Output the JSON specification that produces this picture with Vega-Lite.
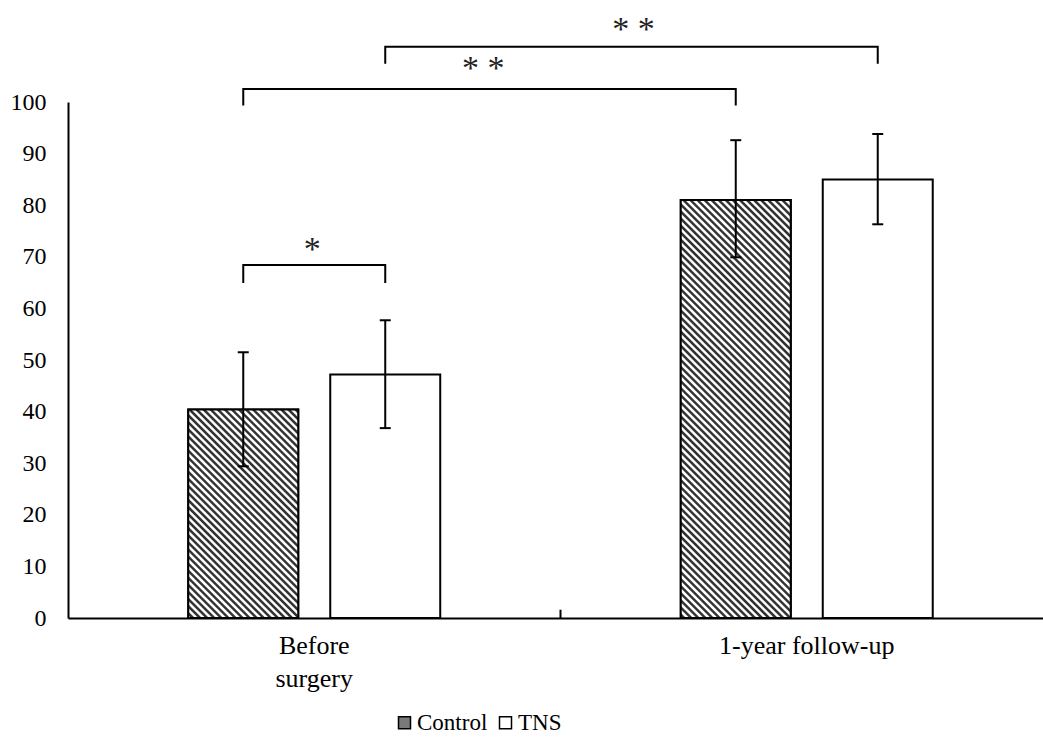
{
  "$schema": "https://vega.github.io/schema/vega-lite/v6.json",
  "width": 985,
  "height": 516,
  "autosize": {"type": "none"},
  "padding": {"left": 68, "top": 102, "right": 0, "bottom": 128},
  "background": "white",
  "config": {"view": {"stroke": null}, "font": "Liberation Serif"},
  "datasets": {
    "bars": [
      {"time": "Before surgery", "group": "Control", "mean": 40.4, "lo": 29.4, "hi": 51.5},
      {"time": "Before surgery", "group": "TNS", "mean": 47.2, "lo": 36.8, "hi": 57.7},
      {"time": "1-year follow-up", "group": "Control", "mean": 81.0, "lo": 69.9, "hi": 92.6},
      {"time": "1-year follow-up", "group": "TNS", "mean": 85.0, "lo": 76.3, "hi": 93.8}
    ],
    "brackets": [
      {"b": "a", "ord": 1, "time": "Before surgery", "group": "Control", "y": 64.9},
      {"b": "a", "ord": 2, "time": "Before surgery", "group": "Control", "y": 68.4},
      {"b": "a", "ord": 3, "time": "Before surgery", "group": "TNS", "y": 68.4},
      {"b": "a", "ord": 4, "time": "Before surgery", "group": "TNS", "y": 64.9},
      {"b": "b", "ord": 1, "time": "Before surgery", "group": "Control", "y": 99.3},
      {"b": "b", "ord": 2, "time": "Before surgery", "group": "Control", "y": 102.5},
      {"b": "b", "ord": 3, "time": "1-year follow-up", "group": "Control", "y": 102.5},
      {"b": "b", "ord": 4, "time": "1-year follow-up", "group": "Control", "y": 99.3},
      {"b": "c", "ord": 1, "time": "Before surgery", "group": "TNS", "y": 107.4},
      {"b": "c", "ord": 2, "time": "Before surgery", "group": "TNS", "y": 110.7},
      {"b": "c", "ord": 3, "time": "1-year follow-up", "group": "TNS", "y": 110.7},
      {"b": "c", "ord": 4, "time": "1-year follow-up", "group": "TNS", "y": 107.4}
    ]
  },
  "layer": [
    {
      "data": {"name": "bars"},
      "mark": {"type": "bar", "stroke": "black", "strokeWidth": 2},
      "encoding": {
        "x": {
          "field": "time", "type": "nominal",
          "sort": ["Before surgery", "1-year follow-up"],
          "scale": {"paddingInner": 0, "paddingOuter": 0},
          "axis": {
            "title": null, "labelAngle": 0, "ticks": false,
            "domainColor": "black", "domainWidth": 2,
            "labelFont": "Liberation Serif",
            "labelFontSize": 26, "labelColor": "black", "labelPadding": 14,
            "labelLineHeight": 33, "labelBaseline": "top",
            "labelExpr": "datum.label == 'Before surgery' ? ['Before', 'surgery'] : datum.label"
          }
        },
        "xOffset": {
          "field": "group", "type": "nominal", "sort": ["Control", "TNS"],
          "scale": {"paddingInner": 0.2254, "paddingOuter": 0.847}
        },
        "y": {
          "field": "mean", "type": "quantitative",
          "scale": {"domain": [0, 100]},
          "axis": {
            "title": null, "ticks": false, "grid": false,
            "values": [0, 10, 20, 30, 40, 50, 60, 70, 80, 90, 100],
            "domainColor": "black", "domainWidth": 2,
            "labelFont": "Liberation Serif",
            "labelFontSize": 24, "labelColor": "black", "labelPadding": 22
          }
        },
        "fill": {
          "field": "group", "type": "nominal",
          "scale": {"domain": ["Control", "TNS"], "range": ["#7a7a7a", "#ffffff"]},
          "legend": {
            "title": null, "orient": "none", "direction": "horizontal",
            "legendX": 325, "legendY": 609,
            "symbolType": "square", "symbolSize": 144,
            "symbolStrokeColor": "black", "symbolStrokeWidth": 1.5,
            "labelFont": "Liberation Serif",
            "labelFontSize": 23, "labelColor": "black", "labelOffset": 1,
            "columnPadding": 6
          }
        }
      }
    },
    {
      "data": {"name": "bars"},
      "transform": [{"filter": "datum.group == 'Control' && datum.time == 'Before surgery'"}],
      "mark": {"type": "bar", "stroke": "black", "strokeWidth": 2, "fill": {"gradient": "linear", "x1": -0.1997, "y1": 1.8262, "x2": 1.1997, "y2": -0.8262, "stops": [
        {"offset":0.27,"color":"#333"},{"offset":0.273,"color":"#333"},{"offset":0.275,"color":"#fff"},{"offset":0.278,"color":"#fff"},
        {"offset":0.28,"color":"#333"},{"offset":0.283,"color":"#333"},{"offset":0.285,"color":"#fff"},{"offset":0.288,"color":"#fff"},
        {"offset":0.29,"color":"#333"},{"offset":0.293,"color":"#333"},{"offset":0.295,"color":"#fff"},{"offset":0.298,"color":"#fff"},
        {"offset":0.30,"color":"#333"},{"offset":0.303,"color":"#333"},{"offset":0.305,"color":"#fff"},{"offset":0.308,"color":"#fff"},
        {"offset":0.31,"color":"#333"},{"offset":0.313,"color":"#333"},{"offset":0.315,"color":"#fff"},{"offset":0.318,"color":"#fff"},
        {"offset":0.32,"color":"#333"},{"offset":0.323,"color":"#333"},{"offset":0.325,"color":"#fff"},{"offset":0.328,"color":"#fff"},
        {"offset":0.33,"color":"#333"},{"offset":0.333,"color":"#333"},{"offset":0.335,"color":"#fff"},{"offset":0.338,"color":"#fff"},
        {"offset":0.34,"color":"#333"},{"offset":0.343,"color":"#333"},{"offset":0.345,"color":"#fff"},{"offset":0.348,"color":"#fff"},
        {"offset":0.35,"color":"#333"},{"offset":0.353,"color":"#333"},{"offset":0.355,"color":"#fff"},{"offset":0.358,"color":"#fff"},
        {"offset":0.36,"color":"#333"},{"offset":0.363,"color":"#333"},{"offset":0.365,"color":"#fff"},{"offset":0.368,"color":"#fff"},
        {"offset":0.37,"color":"#333"},{"offset":0.373,"color":"#333"},{"offset":0.375,"color":"#fff"},{"offset":0.378,"color":"#fff"},
        {"offset":0.38,"color":"#333"},{"offset":0.383,"color":"#333"},{"offset":0.385,"color":"#fff"},{"offset":0.388,"color":"#fff"},
        {"offset":0.39,"color":"#333"},{"offset":0.393,"color":"#333"},{"offset":0.395,"color":"#fff"},{"offset":0.398,"color":"#fff"},
        {"offset":0.40,"color":"#333"},{"offset":0.403,"color":"#333"},{"offset":0.405,"color":"#fff"},{"offset":0.408,"color":"#fff"},
        {"offset":0.41,"color":"#333"},{"offset":0.413,"color":"#333"},{"offset":0.415,"color":"#fff"},{"offset":0.418,"color":"#fff"},
        {"offset":0.42,"color":"#333"},{"offset":0.423,"color":"#333"},{"offset":0.425,"color":"#fff"},{"offset":0.428,"color":"#fff"},
        {"offset":0.43,"color":"#333"},{"offset":0.433,"color":"#333"},{"offset":0.435,"color":"#fff"},{"offset":0.438,"color":"#fff"},
        {"offset":0.44,"color":"#333"},{"offset":0.443,"color":"#333"},{"offset":0.445,"color":"#fff"},{"offset":0.448,"color":"#fff"},
        {"offset":0.45,"color":"#333"},{"offset":0.453,"color":"#333"},{"offset":0.455,"color":"#fff"},{"offset":0.458,"color":"#fff"},
        {"offset":0.46,"color":"#333"},{"offset":0.463,"color":"#333"},{"offset":0.465,"color":"#fff"},{"offset":0.468,"color":"#fff"},
        {"offset":0.47,"color":"#333"},{"offset":0.473,"color":"#333"},{"offset":0.475,"color":"#fff"},{"offset":0.478,"color":"#fff"},
        {"offset":0.48,"color":"#333"},{"offset":0.483,"color":"#333"},{"offset":0.485,"color":"#fff"},{"offset":0.488,"color":"#fff"},
        {"offset":0.49,"color":"#333"},{"offset":0.493,"color":"#333"},{"offset":0.495,"color":"#fff"},{"offset":0.498,"color":"#fff"},
        {"offset":0.50,"color":"#333"},{"offset":0.503,"color":"#333"},{"offset":0.505,"color":"#fff"},{"offset":0.508,"color":"#fff"},
        {"offset":0.51,"color":"#333"},{"offset":0.513,"color":"#333"},{"offset":0.515,"color":"#fff"},{"offset":0.518,"color":"#fff"},
        {"offset":0.52,"color":"#333"},{"offset":0.523,"color":"#333"},{"offset":0.525,"color":"#fff"},{"offset":0.528,"color":"#fff"},
        {"offset":0.53,"color":"#333"},{"offset":0.533,"color":"#333"},{"offset":0.535,"color":"#fff"},{"offset":0.538,"color":"#fff"},
        {"offset":0.54,"color":"#333"},{"offset":0.543,"color":"#333"},{"offset":0.545,"color":"#fff"},{"offset":0.548,"color":"#fff"},
        {"offset":0.55,"color":"#333"},{"offset":0.553,"color":"#333"},{"offset":0.555,"color":"#fff"},{"offset":0.558,"color":"#fff"},
        {"offset":0.56,"color":"#333"},{"offset":0.563,"color":"#333"},{"offset":0.565,"color":"#fff"},{"offset":0.568,"color":"#fff"},
        {"offset":0.57,"color":"#333"},{"offset":0.573,"color":"#333"},{"offset":0.575,"color":"#fff"},{"offset":0.578,"color":"#fff"},
        {"offset":0.58,"color":"#333"},{"offset":0.583,"color":"#333"},{"offset":0.585,"color":"#fff"},{"offset":0.588,"color":"#fff"},
        {"offset":0.59,"color":"#333"},{"offset":0.593,"color":"#333"},{"offset":0.595,"color":"#fff"},{"offset":0.598,"color":"#fff"},
        {"offset":0.60,"color":"#333"},{"offset":0.603,"color":"#333"},{"offset":0.605,"color":"#fff"},{"offset":0.608,"color":"#fff"},
        {"offset":0.61,"color":"#333"},{"offset":0.613,"color":"#333"},{"offset":0.615,"color":"#fff"},{"offset":0.618,"color":"#fff"},
        {"offset":0.62,"color":"#333"},{"offset":0.623,"color":"#333"},{"offset":0.625,"color":"#fff"},{"offset":0.628,"color":"#fff"},
        {"offset":0.63,"color":"#333"},{"offset":0.633,"color":"#333"},{"offset":0.635,"color":"#fff"},{"offset":0.638,"color":"#fff"},
        {"offset":0.64,"color":"#333"},{"offset":0.643,"color":"#333"},{"offset":0.645,"color":"#fff"},{"offset":0.648,"color":"#fff"},
        {"offset":0.65,"color":"#333"},{"offset":0.653,"color":"#333"},{"offset":0.655,"color":"#fff"},{"offset":0.658,"color":"#fff"},
        {"offset":0.66,"color":"#333"},{"offset":0.663,"color":"#333"},{"offset":0.665,"color":"#fff"},{"offset":0.668,"color":"#fff"},
        {"offset":0.67,"color":"#333"},{"offset":0.673,"color":"#333"},{"offset":0.675,"color":"#fff"},{"offset":0.678,"color":"#fff"},
        {"offset":0.68,"color":"#333"},{"offset":0.683,"color":"#333"},{"offset":0.685,"color":"#fff"},{"offset":0.688,"color":"#fff"},
        {"offset":0.69,"color":"#333"},{"offset":0.693,"color":"#333"},{"offset":0.695,"color":"#fff"},{"offset":0.698,"color":"#fff"},
        {"offset":0.70,"color":"#333"},{"offset":0.703,"color":"#333"},{"offset":0.705,"color":"#fff"},{"offset":0.708,"color":"#fff"},
        {"offset":0.71,"color":"#333"},{"offset":0.713,"color":"#333"},{"offset":0.715,"color":"#fff"},{"offset":0.718,"color":"#fff"},
        {"offset":0.72,"color":"#333"},{"offset":0.723,"color":"#333"},{"offset":0.725,"color":"#fff"},{"offset":0.728,"color":"#fff"},
        {"offset":0.73,"color":"#333"},{"offset":0.733,"color":"#333"},{"offset":0.735,"color":"#fff"},{"offset":0.738,"color":"#fff"}
      ]}},
      "encoding": {
        "x": {"field": "time", "type": "nominal", "sort": ["Before surgery", "1-year follow-up"]},
        "xOffset": {"field": "group", "type": "nominal", "sort": ["Control", "TNS"]},
        "y": {"field": "mean", "type": "quantitative"}
      }
    },
    {
      "data": {"name": "bars"},
      "transform": [{"filter": "datum.group == 'Control' && datum.time == '1-year follow-up'"}],
      "mark": {"type": "bar", "stroke": "black", "strokeWidth": 2, "fill": {"gradient": "linear", "x1": 0.2918, "y1": 1.2911, "x2": 0.7082, "y2": -0.2911, "stops": [
        {"offset":0.12,"color":"#333"},{"offset":0.123,"color":"#333"},{"offset":0.125,"color":"#fff"},{"offset":0.128,"color":"#fff"},
        {"offset":0.13,"color":"#333"},{"offset":0.133,"color":"#333"},{"offset":0.135,"color":"#fff"},{"offset":0.138,"color":"#fff"},
        {"offset":0.14,"color":"#333"},{"offset":0.143,"color":"#333"},{"offset":0.145,"color":"#fff"},{"offset":0.148,"color":"#fff"},
        {"offset":0.15,"color":"#333"},{"offset":0.153,"color":"#333"},{"offset":0.155,"color":"#fff"},{"offset":0.158,"color":"#fff"},
        {"offset":0.16,"color":"#333"},{"offset":0.163,"color":"#333"},{"offset":0.165,"color":"#fff"},{"offset":0.168,"color":"#fff"},
        {"offset":0.17,"color":"#333"},{"offset":0.173,"color":"#333"},{"offset":0.175,"color":"#fff"},{"offset":0.178,"color":"#fff"},
        {"offset":0.18,"color":"#333"},{"offset":0.183,"color":"#333"},{"offset":0.185,"color":"#fff"},{"offset":0.188,"color":"#fff"},
        {"offset":0.19,"color":"#333"},{"offset":0.193,"color":"#333"},{"offset":0.195,"color":"#fff"},{"offset":0.198,"color":"#fff"},
        {"offset":0.20,"color":"#333"},{"offset":0.203,"color":"#333"},{"offset":0.205,"color":"#fff"},{"offset":0.208,"color":"#fff"},
        {"offset":0.21,"color":"#333"},{"offset":0.213,"color":"#333"},{"offset":0.215,"color":"#fff"},{"offset":0.218,"color":"#fff"},
        {"offset":0.22,"color":"#333"},{"offset":0.223,"color":"#333"},{"offset":0.225,"color":"#fff"},{"offset":0.228,"color":"#fff"},
        {"offset":0.23,"color":"#333"},{"offset":0.233,"color":"#333"},{"offset":0.235,"color":"#fff"},{"offset":0.238,"color":"#fff"},
        {"offset":0.24,"color":"#333"},{"offset":0.243,"color":"#333"},{"offset":0.245,"color":"#fff"},{"offset":0.248,"color":"#fff"},
        {"offset":0.25,"color":"#333"},{"offset":0.253,"color":"#333"},{"offset":0.255,"color":"#fff"},{"offset":0.258,"color":"#fff"},
        {"offset":0.26,"color":"#333"},{"offset":0.263,"color":"#333"},{"offset":0.265,"color":"#fff"},{"offset":0.268,"color":"#fff"},
        {"offset":0.27,"color":"#333"},{"offset":0.273,"color":"#333"},{"offset":0.275,"color":"#fff"},{"offset":0.278,"color":"#fff"},
        {"offset":0.28,"color":"#333"},{"offset":0.283,"color":"#333"},{"offset":0.285,"color":"#fff"},{"offset":0.288,"color":"#fff"},
        {"offset":0.29,"color":"#333"},{"offset":0.293,"color":"#333"},{"offset":0.295,"color":"#fff"},{"offset":0.298,"color":"#fff"},
        {"offset":0.30,"color":"#333"},{"offset":0.303,"color":"#333"},{"offset":0.305,"color":"#fff"},{"offset":0.308,"color":"#fff"},
        {"offset":0.31,"color":"#333"},{"offset":0.313,"color":"#333"},{"offset":0.315,"color":"#fff"},{"offset":0.318,"color":"#fff"},
        {"offset":0.32,"color":"#333"},{"offset":0.323,"color":"#333"},{"offset":0.325,"color":"#fff"},{"offset":0.328,"color":"#fff"},
        {"offset":0.33,"color":"#333"},{"offset":0.333,"color":"#333"},{"offset":0.335,"color":"#fff"},{"offset":0.338,"color":"#fff"},
        {"offset":0.34,"color":"#333"},{"offset":0.343,"color":"#333"},{"offset":0.345,"color":"#fff"},{"offset":0.348,"color":"#fff"},
        {"offset":0.35,"color":"#333"},{"offset":0.353,"color":"#333"},{"offset":0.355,"color":"#fff"},{"offset":0.358,"color":"#fff"},
        {"offset":0.36,"color":"#333"},{"offset":0.363,"color":"#333"},{"offset":0.365,"color":"#fff"},{"offset":0.368,"color":"#fff"},
        {"offset":0.37,"color":"#333"},{"offset":0.373,"color":"#333"},{"offset":0.375,"color":"#fff"},{"offset":0.378,"color":"#fff"},
        {"offset":0.38,"color":"#333"},{"offset":0.383,"color":"#333"},{"offset":0.385,"color":"#fff"},{"offset":0.388,"color":"#fff"},
        {"offset":0.39,"color":"#333"},{"offset":0.393,"color":"#333"},{"offset":0.395,"color":"#fff"},{"offset":0.398,"color":"#fff"},
        {"offset":0.40,"color":"#333"},{"offset":0.403,"color":"#333"},{"offset":0.405,"color":"#fff"},{"offset":0.408,"color":"#fff"},
        {"offset":0.41,"color":"#333"},{"offset":0.413,"color":"#333"},{"offset":0.415,"color":"#fff"},{"offset":0.418,"color":"#fff"},
        {"offset":0.42,"color":"#333"},{"offset":0.423,"color":"#333"},{"offset":0.425,"color":"#fff"},{"offset":0.428,"color":"#fff"},
        {"offset":0.43,"color":"#333"},{"offset":0.433,"color":"#333"},{"offset":0.435,"color":"#fff"},{"offset":0.438,"color":"#fff"},
        {"offset":0.44,"color":"#333"},{"offset":0.443,"color":"#333"},{"offset":0.445,"color":"#fff"},{"offset":0.448,"color":"#fff"},
        {"offset":0.45,"color":"#333"},{"offset":0.453,"color":"#333"},{"offset":0.455,"color":"#fff"},{"offset":0.458,"color":"#fff"},
        {"offset":0.46,"color":"#333"},{"offset":0.463,"color":"#333"},{"offset":0.465,"color":"#fff"},{"offset":0.468,"color":"#fff"},
        {"offset":0.47,"color":"#333"},{"offset":0.473,"color":"#333"},{"offset":0.475,"color":"#fff"},{"offset":0.478,"color":"#fff"},
        {"offset":0.48,"color":"#333"},{"offset":0.483,"color":"#333"},{"offset":0.485,"color":"#fff"},{"offset":0.488,"color":"#fff"},
        {"offset":0.49,"color":"#333"},{"offset":0.493,"color":"#333"},{"offset":0.495,"color":"#fff"},{"offset":0.498,"color":"#fff"},
        {"offset":0.50,"color":"#333"},{"offset":0.503,"color":"#333"},{"offset":0.505,"color":"#fff"},{"offset":0.508,"color":"#fff"},
        {"offset":0.51,"color":"#333"},{"offset":0.513,"color":"#333"},{"offset":0.515,"color":"#fff"},{"offset":0.518,"color":"#fff"},
        {"offset":0.52,"color":"#333"},{"offset":0.523,"color":"#333"},{"offset":0.525,"color":"#fff"},{"offset":0.528,"color":"#fff"},
        {"offset":0.53,"color":"#333"},{"offset":0.533,"color":"#333"},{"offset":0.535,"color":"#fff"},{"offset":0.538,"color":"#fff"},
        {"offset":0.54,"color":"#333"},{"offset":0.543,"color":"#333"},{"offset":0.545,"color":"#fff"},{"offset":0.548,"color":"#fff"},
        {"offset":0.55,"color":"#333"},{"offset":0.553,"color":"#333"},{"offset":0.555,"color":"#fff"},{"offset":0.558,"color":"#fff"},
        {"offset":0.56,"color":"#333"},{"offset":0.563,"color":"#333"},{"offset":0.565,"color":"#fff"},{"offset":0.568,"color":"#fff"},
        {"offset":0.57,"color":"#333"},{"offset":0.573,"color":"#333"},{"offset":0.575,"color":"#fff"},{"offset":0.578,"color":"#fff"},
        {"offset":0.58,"color":"#333"},{"offset":0.583,"color":"#333"},{"offset":0.585,"color":"#fff"},{"offset":0.588,"color":"#fff"},
        {"offset":0.59,"color":"#333"},{"offset":0.593,"color":"#333"},{"offset":0.595,"color":"#fff"},{"offset":0.598,"color":"#fff"},
        {"offset":0.60,"color":"#333"},{"offset":0.603,"color":"#333"},{"offset":0.605,"color":"#fff"},{"offset":0.608,"color":"#fff"},
        {"offset":0.61,"color":"#333"},{"offset":0.613,"color":"#333"},{"offset":0.615,"color":"#fff"},{"offset":0.618,"color":"#fff"},
        {"offset":0.62,"color":"#333"},{"offset":0.623,"color":"#333"},{"offset":0.625,"color":"#fff"},{"offset":0.628,"color":"#fff"},
        {"offset":0.63,"color":"#333"},{"offset":0.633,"color":"#333"},{"offset":0.635,"color":"#fff"},{"offset":0.638,"color":"#fff"},
        {"offset":0.64,"color":"#333"},{"offset":0.643,"color":"#333"},{"offset":0.645,"color":"#fff"},{"offset":0.648,"color":"#fff"},
        {"offset":0.65,"color":"#333"},{"offset":0.653,"color":"#333"},{"offset":0.655,"color":"#fff"},{"offset":0.658,"color":"#fff"},
        {"offset":0.66,"color":"#333"},{"offset":0.663,"color":"#333"},{"offset":0.665,"color":"#fff"},{"offset":0.668,"color":"#fff"},
        {"offset":0.67,"color":"#333"},{"offset":0.673,"color":"#333"},{"offset":0.675,"color":"#fff"},{"offset":0.678,"color":"#fff"},
        {"offset":0.68,"color":"#333"},{"offset":0.683,"color":"#333"},{"offset":0.685,"color":"#fff"},{"offset":0.688,"color":"#fff"},
        {"offset":0.69,"color":"#333"},{"offset":0.693,"color":"#333"},{"offset":0.695,"color":"#fff"},{"offset":0.698,"color":"#fff"},
        {"offset":0.70,"color":"#333"},{"offset":0.703,"color":"#333"},{"offset":0.705,"color":"#fff"},{"offset":0.708,"color":"#fff"},
        {"offset":0.71,"color":"#333"},{"offset":0.713,"color":"#333"},{"offset":0.715,"color":"#fff"},{"offset":0.718,"color":"#fff"},
        {"offset":0.72,"color":"#333"},{"offset":0.723,"color":"#333"},{"offset":0.725,"color":"#fff"},{"offset":0.728,"color":"#fff"},
        {"offset":0.73,"color":"#333"},{"offset":0.733,"color":"#333"},{"offset":0.735,"color":"#fff"},{"offset":0.738,"color":"#fff"},
        {"offset":0.74,"color":"#333"},{"offset":0.743,"color":"#333"},{"offset":0.745,"color":"#fff"},{"offset":0.748,"color":"#fff"},
        {"offset":0.75,"color":"#333"},{"offset":0.753,"color":"#333"},{"offset":0.755,"color":"#fff"},{"offset":0.758,"color":"#fff"},
        {"offset":0.76,"color":"#333"},{"offset":0.763,"color":"#333"},{"offset":0.765,"color":"#fff"},{"offset":0.768,"color":"#fff"},
        {"offset":0.77,"color":"#333"},{"offset":0.773,"color":"#333"},{"offset":0.775,"color":"#fff"},{"offset":0.778,"color":"#fff"},
        {"offset":0.78,"color":"#333"},{"offset":0.783,"color":"#333"},{"offset":0.785,"color":"#fff"},{"offset":0.788,"color":"#fff"},
        {"offset":0.79,"color":"#333"},{"offset":0.793,"color":"#333"},{"offset":0.795,"color":"#fff"},{"offset":0.798,"color":"#fff"},
        {"offset":0.80,"color":"#333"},{"offset":0.803,"color":"#333"},{"offset":0.805,"color":"#fff"},{"offset":0.808,"color":"#fff"},
        {"offset":0.81,"color":"#333"},{"offset":0.813,"color":"#333"},{"offset":0.815,"color":"#fff"},{"offset":0.818,"color":"#fff"},
        {"offset":0.82,"color":"#333"},{"offset":0.823,"color":"#333"},{"offset":0.825,"color":"#fff"},{"offset":0.828,"color":"#fff"},
        {"offset":0.83,"color":"#333"},{"offset":0.833,"color":"#333"},{"offset":0.835,"color":"#fff"},{"offset":0.838,"color":"#fff"},
        {"offset":0.84,"color":"#333"},{"offset":0.843,"color":"#333"},{"offset":0.845,"color":"#fff"},{"offset":0.848,"color":"#fff"},
        {"offset":0.85,"color":"#333"},{"offset":0.853,"color":"#333"},{"offset":0.855,"color":"#fff"},{"offset":0.858,"color":"#fff"},
        {"offset":0.86,"color":"#333"},{"offset":0.863,"color":"#333"},{"offset":0.865,"color":"#fff"},{"offset":0.868,"color":"#fff"},
        {"offset":0.87,"color":"#333"},{"offset":0.873,"color":"#333"},{"offset":0.875,"color":"#fff"},{"offset":0.878,"color":"#fff"}
      ]}},
      "encoding": {
        "x": {"field": "time", "type": "nominal", "sort": ["Before surgery", "1-year follow-up"]},
        "xOffset": {"field": "group", "type": "nominal", "sort": ["Control", "TNS"]},
        "y": {"field": "mean", "type": "quantitative"}
      }
    },
    {
      "data": {"name": "bars"},
      "mark": {"type": "rule", "strokeWidth": 2, "color": "black"},
      "encoding": {
        "x": {"field": "time", "type": "nominal", "sort": ["Before surgery", "1-year follow-up"]},
        "xOffset": {"field": "group", "type": "nominal", "sort": ["Control", "TNS"]},
        "y": {"field": "lo", "type": "quantitative"},
        "y2": {"field": "hi"}
      }
    },
    {
      "data": {"name": "bars"},
      "mark": {"type": "tick", "thickness": 2, "size": 11, "color": "black", "opacity": 1},
      "encoding": {
        "x": {"field": "time", "type": "nominal", "sort": ["Before surgery", "1-year follow-up"]},
        "xOffset": {"field": "group", "type": "nominal", "sort": ["Control", "TNS"]},
        "y": {"field": "hi", "type": "quantitative"}
      }
    },
    {
      "data": {"name": "bars"},
      "mark": {"type": "tick", "thickness": 2, "size": 11, "color": "black", "opacity": 1},
      "encoding": {
        "x": {"field": "time", "type": "nominal", "sort": ["Before surgery", "1-year follow-up"]},
        "xOffset": {"field": "group", "type": "nominal", "sort": ["Control", "TNS"]},
        "y": {"field": "lo", "type": "quantitative"}
      }
    },
    {
      "data": {"values": [{"time": "1-year follow-up"}]},
      "mark": {"type": "rule", "strokeWidth": 2, "color": "black"},
      "encoding": {
        "x": {"field": "time", "type": "nominal", "bandPosition": 0, "sort": ["Before surgery", "1-year follow-up"]},
        "y": {"datum": 0, "type": "quantitative"},
        "y2": {"datum": 1.6}
      }
    },
    {
      "data": {"name": "brackets"},
      "mark": {"type": "line", "strokeWidth": 2, "color": "black", "strokeJoin": "miter"},
      "encoding": {
        "x": {"field": "time", "type": "nominal", "sort": ["Before surgery", "1-year follow-up"]},
        "xOffset": {"field": "group", "type": "nominal", "sort": ["Control", "TNS"]},
        "y": {"field": "y", "type": "quantitative"},
        "detail": {"field": "b"},
        "order": {"field": "ord"}
      }
    },
    {
      "data": {"values": [{"time": "Before surgery", "t": "*", "y": 71.3}]},
      "mark": {"type": "text", "fontSize": 34, "color": "#222", "baseline": "middle", "dx": -2},
      "encoding": {
        "x": {"field": "time", "type": "nominal", "sort": ["Before surgery", "1-year follow-up"]},
        "y": {"field": "y", "type": "quantitative"},
        "text": {"field": "t"}
      }
    },
    {
      "data": {"values": [{"time": "Before surgery", "t": "* *", "y": 106.4}]},
      "mark": {"type": "text", "fontSize": 34, "color": "#222", "baseline": "middle"},
      "encoding": {
        "x": {"field": "time", "type": "nominal", "bandPosition": 0.843, "sort": ["Before surgery", "1-year follow-up"]},
        "y": {"field": "y", "type": "quantitative"},
        "text": {"field": "t"}
      }
    },
    {
      "data": {"values": [{"time": "1-year follow-up", "t": "* *", "y": 114.0}]},
      "mark": {"type": "text", "fontSize": 34, "color": "#222", "baseline": "middle"},
      "encoding": {
        "x": {"field": "time", "type": "nominal", "bandPosition": 0.148, "sort": ["Before surgery", "1-year follow-up"]},
        "y": {"field": "y", "type": "quantitative"},
        "text": {"field": "t"}
      }
    }
  ]
}
